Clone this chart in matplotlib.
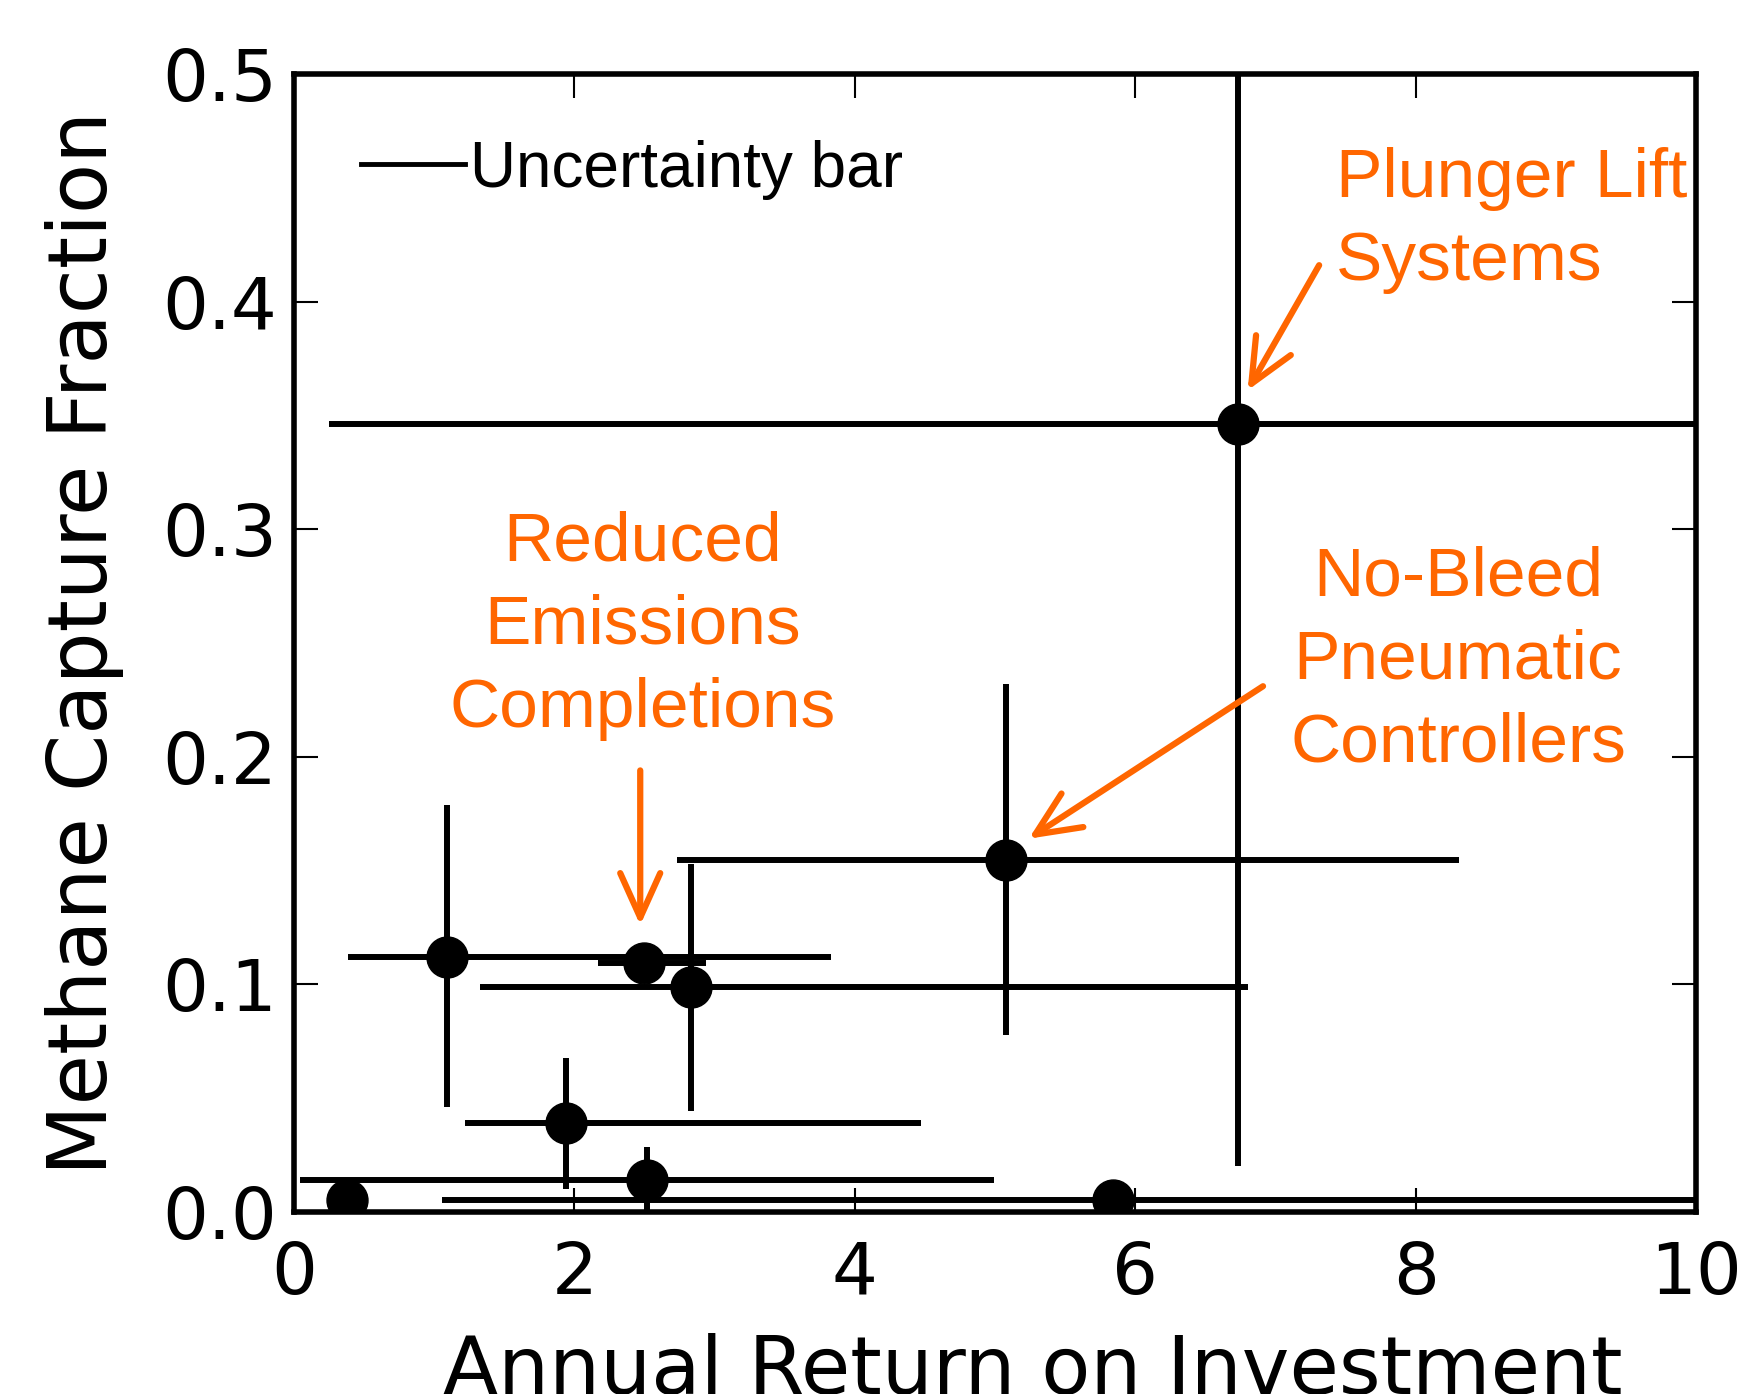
import numpy as np
import matplotlib
matplotlib.use("Agg")
import matplotlib.pyplot as plt
from matplotlib.lines import Line2D

# ---- data ----
x_vals = [0.38, 5.84, 2.52, 1.94, 1.094, 2.50, 2.835, 5.076, 6.73]
y_vals = [0.0053, 0.0053, 0.0141, 0.039, 0.1119, 0.1095, 0.099, 0.1547, 0.3463]
x_low  = [0.38, 1.06, 0.044, 1.22, 0.385, 2.17, 1.327, 2.734, 0.248]
x_high = [0.38, 10.0, 4.99, 4.47, 3.83, 2.94, 6.80, 8.305, 10.0]
y_low  = [0.0053, 0.0053, 0.0, 0.010, 0.046, 0.1095, 0.0445, 0.0778, 0.0202]
y_high = [0.0053, 0.0053, 0.0287, 0.0675, 0.179, 0.1095, 0.153, 0.232, 0.5]

x_ticks = [0, 2, 4, 6, 8, 10]
y_ticks = [0.0, 0.1, 0.2, 0.3, 0.4, 0.5]

labels = ["Plunger Lift\nSystems", "Reduced\nEmissions\nCompletions",
          "No-Bleed\nPneumatic\nControllers"]
label_pos = [(7.43, 0.4355), (2.49, 0.2576), (8.30, 0.2425)]
label_ha = ["left", "center", "center"]
arrow_tail = [(7.31, 0.416), (2.47, 0.194), (6.91, 0.231)]
arrow_head = [(6.80, 0.361), (2.47, 0.126), (5.24, 0.164)]

ORANGE = "#FF6600"

fig = plt.figure(figsize=(17.58, 13.94), dpi=100)
ax = fig.add_axes([0.1671, 0.1306, 0.965 - 0.1671, 0.9469 - 0.1306])

xv = np.array(x_vals); yv = np.array(y_vals)
xerr = np.vstack([xv - np.array(x_low), np.array(x_high) - xv])
yerr = np.vstack([yv - np.array(y_low), np.array(y_high) - yv])

ax.errorbar(xv, yv, xerr=xerr, yerr=yerr, fmt='o', color='black',
            ecolor='black', elinewidth=4.3, markersize=29.5, capsize=0,
            zorder=3)

ax.set_xlim(0, 10)
ax.set_ylim(0, 0.5)
ax.set_xticks(x_ticks)
ax.set_yticks(y_ticks)
ax.set_xticklabels([str(t) for t in x_ticks])
ax.set_yticklabels([f"{t:.1f}" for t in y_ticks])

for s in ax.spines.values():
    s.set_linewidth(4)

ax.tick_params(axis='both', which='major', direction='in', length=17, width=1.5,
               top=True, right=True, labelsize=52)
ax.tick_params(axis='x', pad=20)
ax.tick_params(axis='y', pad=12)

ax.set_xlabel("Annual Return on Investment", fontsize=58)
ax.set_ylabel("Methane Capture Fraction", fontsize=59)
ax.xaxis.set_label_coords(0.527, -0.106)
ax.yaxis.set_label_coords(-0.121, 0.5)

# legend
handle = Line2D([], [], color='black', lw=3.5)
ax.legend([handle], ["Uncertainty bar"], loc='center left',
          bbox_to_anchor=(0.048, 0.916), frameon=False, borderpad=0,
          borderaxespad=0, handlelength=1.63, handletextpad=0.08,
          prop={'family': 'Liberation Sans', 'size': 46})

for lab, pos, ha in zip(labels, label_pos, label_ha):
    ax.text(pos[0], pos[1], lab, color=ORANGE, fontsize=50,
            family='Liberation Sans', ha=ha, va='center', linespacing=1.38)

for tail, head in zip(arrow_tail, arrow_head):
    ax.annotate("", xy=head, xytext=tail, xycoords='data', textcoords='data',
                arrowprops=dict(arrowstyle="->, head_length=1.0, head_width=0.45",
                                color=ORANGE, lw=4.5, mutation_scale=32,
                                shrinkA=0, shrinkB=0))

fig.savefig("out.png", dpi=100)
